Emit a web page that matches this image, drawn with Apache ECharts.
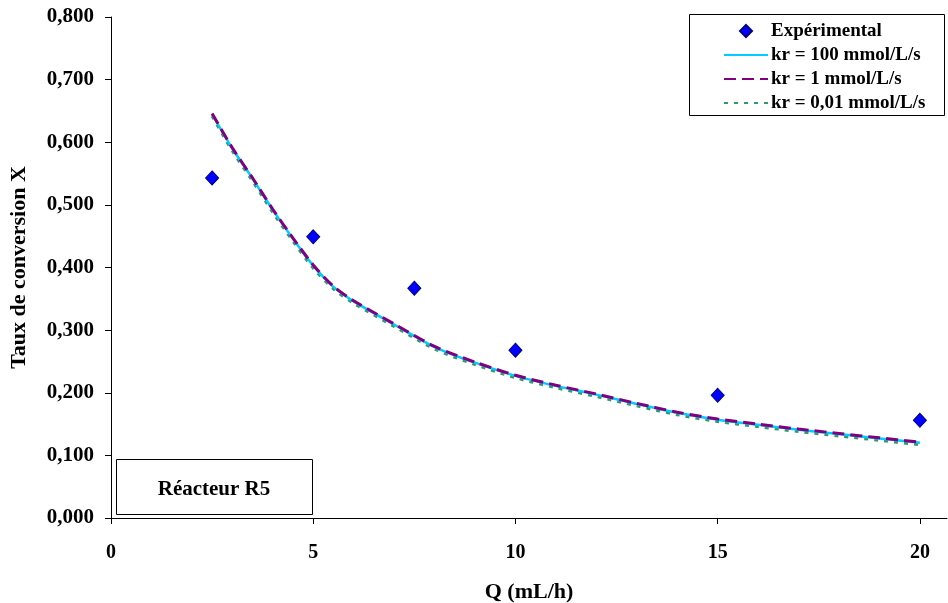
<!DOCTYPE html>
<html>
<head>
<meta charset="utf-8">
<script src="https://cdn.jsdelivr.net/npm/echarts@6/dist/echarts.min.js"></script>
<style>
html,body{margin:0;padding:0;background:#fff;}
#chart{width:948px;height:603px;}
</style>
</head>
<body>
<div id="chart"></div>
<script>
// Data
const expQ = [2.5, 5, 7.5, 10, 15, 20];
const expX = [0.543, 0.449, 0.367, 0.268, 0.196, 0.156];

const modelQ = [2.5, 3, 3.5, 4, 4.5, 5, 5.5, 6, 7, 8, 9, 10, 11, 12, 13, 14, 15, 16, 17, 18, 19, 20];
const kr100 = [0.645, 0.590, 0.542, 0.492, 0.446, 0.403, 0.369, 0.346, 0.309, 0.273, 0.248, 0.227, 0.211, 0.197, 0.182, 0.168, 0.157, 0.149, 0.141, 0.134, 0.127, 0.120];
const kr1   = [0.646, 0.591, 0.543, 0.493, 0.447, 0.404, 0.370, 0.347, 0.310, 0.274, 0.249, 0.228, 0.212, 0.198, 0.183, 0.169, 0.158, 0.150, 0.142, 0.135, 0.128, 0.121];
const kr001 = [0.642, 0.586, 0.538, 0.488, 0.442, 0.399, 0.366, 0.343, 0.306, 0.270, 0.245, 0.224, 0.208, 0.194, 0.179, 0.165, 0.154, 0.146, 0.138, 0.131, 0.124, 0.117];

const xTicks = [0, 5, 10, 15, 20];
const seriesNames = ['Expérimental', 'kr = 100 mmol/L/s', 'kr = 1 mmol/L/s', 'kr = 0,01 mmol/L/s'];
const xTitle = 'Q (mL/h)';
const yTitle = 'Taux de conversion X';
const boxLabel = 'Réacteur R5';

const pair = (xs, ys) => xs.map((x, i) => [x, ys[i]]);
const FONT = 'Liberation Serif';

const chart = echarts.init(document.getElementById('chart'), null, {renderer: 'canvas'});
chart.setOption({
  animation: false,
  backgroundColor: '#ffffff',
  grid: {left: 111, top: 17, right: 1, bottom: 85, containLabel: false, outerBoundsMode: 'none'},
  xAxis: {
    type: 'value', min: 0, max: 20.67,
    name: xTitle, nameLocation: 'middle', nameGap: 63,
    nameTextStyle: {fontFamily: FONT, fontWeight: 'bold', fontSize: 22, color: '#000'},
    axisLine: {show: true, lineStyle: {color: '#000', width: 1}},
    axisTick: {show: true, length: 6, inside: false, customValues: xTicks, lineStyle: {color: '#000'}},
    axisLabel: {customValues: xTicks, margin: 25, fontFamily: FONT, fontWeight: 'bold', fontSize: 20, color: '#000'},
    splitLine: {show: false}
  },
  yAxis: {
    type: 'value', min: 0, max: 0.8, interval: 0.1,
    name: yTitle, nameLocation: 'middle', nameGap: 81, nameRotate: 90,
    nameTextStyle: {fontFamily: FONT, fontWeight: 'bold', fontSize: 22, color: '#000'},
    axisLine: {show: true, lineStyle: {color: '#000', width: 1}},
    axisTick: {show: true, length: 6, inside: false, lineStyle: {color: '#000'}},
    axisLabel: {margin: 17, fontFamily: FONT, fontWeight: 'bold', fontSize: 21, color: '#000',
      formatter: v => v.toFixed(3).replace('.', ',')},
    splitLine: {show: false}
  },
  legend: {
    orient: 'vertical', left: 723, top: 20, padding: 0,
    itemWidth: 44, itemHeight: 12, itemGap: 2, align: 'left', symbolKeepAspect: true,
    textStyle: {fontFamily: FONT, fontWeight: 'bold', fontSize: 19, color: '#000', lineHeight: 22, padding: [0,0,0,-2]},
    data: [
      {name: seriesNames[0], icon: 'path://M0,-1L1,0L0,1L-1,0Z'},
      {name: seriesNames[1], itemStyle: {opacity: 0}},
      {name: seriesNames[2], itemStyle: {opacity: 0}},
      {name: seriesNames[3], itemStyle: {opacity: 0}}
    ]
  },
  graphic: [
    {type: 'rect', shape: {x: 689.5, y: 14.5, width: 255, height: 101}, style: {fill: 'none', stroke: '#000', lineWidth: 1}, z: 100},
    {type: 'rect', shape: {x: 116.5, y: 459.5, width: 196, height: 55}, style: {fill: '#fff', stroke: '#000', lineWidth: 1}, z: 100},
    {type: 'text', x: 214, y: 490, z: 101, style: {text: boxLabel, fontFamily: FONT, fontWeight: 'bold', fontSize: 21, fill: '#000', align: 'center', verticalAlign: 'middle'}}
  ],
  series: [
    {name: seriesNames[0], type: 'scatter', data: pair(expQ, expX), symbol: 'diamond', symbolSize: [13, 14],
      itemStyle: {color: '#0000ff', borderColor: '#000080', borderWidth: 1, opacity: 1}, z: 10},
    {name: seriesNames[1], type: 'line', data: pair(modelQ, kr100), showSymbol: false, symbol: 'none', smooth: 0.3,
      lineStyle: {color: '#00ccff', width: 2.5, type: 'solid'}, itemStyle: {color: '#00ccff'}, z: 4},
    {name: seriesNames[2], type: 'line', data: pair(modelQ, kr1), showSymbol: false, symbol: 'none', smooth: 0.3,
      lineStyle: {color: '#800080', width: 3, type: [12, 6]}, itemStyle: {color: '#800080'}, z: 5},
    {name: seriesNames[3], type: 'line', data: pair(modelQ, kr001), showSymbol: false, symbol: 'none', smooth: 0.3,
      lineStyle: {color: '#339966', width: 3, type: [4, 6]}, itemStyle: {color: '#339966'}, z: 3}
  ]
});
</script>
</body>
</html>
